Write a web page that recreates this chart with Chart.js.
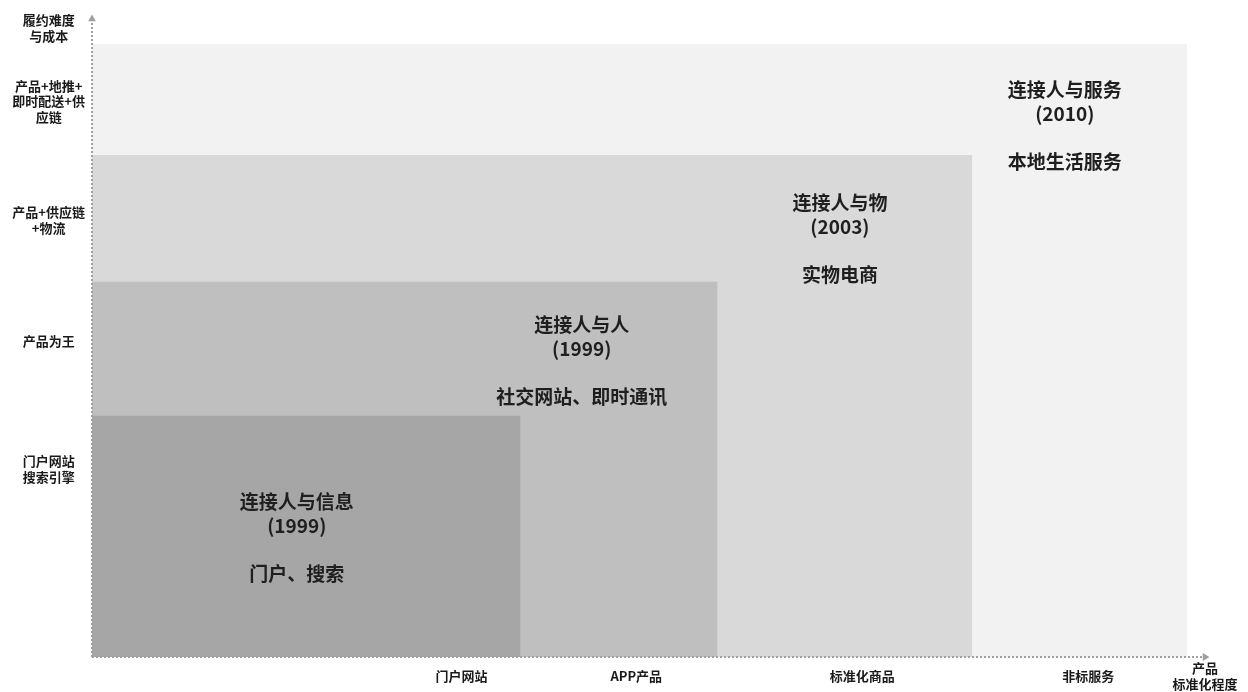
<!DOCTYPE html>
<html><head><meta charset="utf-8">
<script src="https://cdn.jsdelivr.net/npm/chart.js@4.4.1/dist/chart.umd.min.js"></script>
<style>html,body{margin:0;padding:0;background:#fff}#wrap{width:1248px;height:692px}</style>
</head><body><div id="wrap"><canvas id="c" width="1248" height="692"></canvas></div>
<script>
// ---- data ----
const stageNames = ['连接人与信息', '连接人与人', '连接人与物', '连接人与服务'];
const stageYears = ['(1999)', '(1999)', '(2003)', '(2010)'];
const stageExamples = ['门户、搜索', '社交网站、即时通讯', '实物电商', '本地生活服务'];
const stageStandardization = [38.5, 56.2, 79.1, 98.4];   // x extent
const stageDifficulty = [37.8, 58.8, 78.7, 96.1];        // y extent
const stageLabelX = [18.4, 44.0, 67.2, 87.4];
const stageLabelY = [18.7, 46.4, 65.5, 83.2];

const xTickValues = [33.2, 48.9, 69.2, 89.5, 100];
const xTickLabels = ['门户网站', 'APP产品', '标准化商品', '非标服务', ['产品', '标准化程度']];
const yTickValues = [29.5, 49.5, 68.5, 87.1, 98.6];
const yTickLabels = [['门户网站', '搜索引擎'], '产品为王', ['产品+供应链', '+物流'], ['产品+地推+', '即时配送+供', '应链'], ['履约难度', '与成本']];

// ---- styles ----
const fills = ['#a6a6a6', '#bfbfbf', '#d9d9d9', '#f2f2f2'];
const FONT = '"Noto Sans CJK SC", "Noto Sans", sans-serif';
const axisColor = '#a0a0a0';

const datasets = stageStandardization.map((w, i) => ({
  type: 'line',
  data: [{x: 0, y: stageDifficulty[i]}, {x: w, y: stageDifficulty[i]}],
  fill: 'origin',
  backgroundColor: fills[i],
  borderWidth: 0,
  borderColor: 'rgba(0,0,0,0)',
  pointRadius: 0,
  order: i + 2
}));
// dotted axes
datasets.push({
  type: 'line', data: [{x: 0, y: 0}, {x: 100, y: 0}], fill: false,
  borderColor: axisColor, borderWidth: 2, borderDash: [2, 2], pointRadius: 0, clip: false, order: 1
});
datasets.push({
  type: 'line', data: [{x: 0, y: 0}, {x: 0, y: 100}], fill: false,
  borderColor: axisColor, borderWidth: 2, borderDash: [2, 2], pointRadius: 0, clip: false, order: 1
});
// arrow heads
datasets.push({
  type: 'scatter', data: [{x: 0, y: 100}], pointStyle: 'triangle', pointRadius: 4.5,
  pointRotation: 0, backgroundColor: axisColor, borderWidth: 0, clip: false, order: 0
});
datasets.push({
  type: 'scatter', data: [{x: 100, y: 0}], pointStyle: 'triangle', pointRadius: 4.5,
  pointRotation: 90, backgroundColor: axisColor, borderWidth: 0, clip: false, order: 0
});

const stageTextPlugin = {
  id: 'stageText',
  afterDatasetsDraw(chart) {
    const {ctx, scales: {x, y}} = chart;
    ctx.save();
    ctx.font = 'bold 19px ' + FONT;
    ctx.fillStyle = '#1f1f1f';
    ctx.textAlign = 'center';
    ctx.textBaseline = 'middle';
    stageNames.forEach((n, i) => {
      const px = x.getPixelForValue(stageLabelX[i]);
      const py = y.getPixelForValue(stageLabelY[i]);
      const lines = [n, stageYears[i], '', stageExamples[i]];
      lines.forEach((t, j) => ctx.fillText(t, px, py + (j - 1.5) * 24));
    });
    ctx.restore();
  }
};

const tickFont = {family: FONT, size: 13, weight: 'bold', lineHeight: 1.2};

new Chart(document.getElementById('c'), {
  data: {datasets},
  options: {
    responsive: false,
    animation: false,
    events: [],
    layout: {padding: {left: 0, right: 43, top: 19, bottom: 0}},
    plugins: {legend: {display: false}, tooltip: {enabled: false}},
    scales: {
      x: {
        type: 'linear', min: 0, max: 100,
        grid: {display: false, drawTicks: false},
        border: {display: false},
        afterBuildTicks: s => { s.ticks = xTickValues.map(v => ({value: v})); },
        afterFit: s => { s.height = 35; s.paddingLeft = 0; s.paddingRight = 0; },
        ticks: {
          autoSkip: false, maxRotation: 0, minRotation: 0, padding: 11, crossAlign: 'center',
          color: '#1a1a1a', font: tickFont,
          callback: (v, i) => xTickLabels[i]
        }
      },
      y: {
        type: 'linear', min: 0, max: 100,
        grid: {display: false, drawTicks: false},
        border: {display: false},
        afterBuildTicks: s => { s.ticks = yTickValues.map(v => ({value: v})); },
        afterFit: s => { s.width = 92; s.paddingTop = 0; s.paddingBottom = 0; },
        ticks: {
          autoSkip: false, padding: 7, crossAlign: 'center',
          color: '#1a1a1a', font: tickFont,
          callback: (v, i) => yTickLabels[i]
        }
      }
    }
  },
  plugins: [stageTextPlugin]
});
</script>
</body></html>
